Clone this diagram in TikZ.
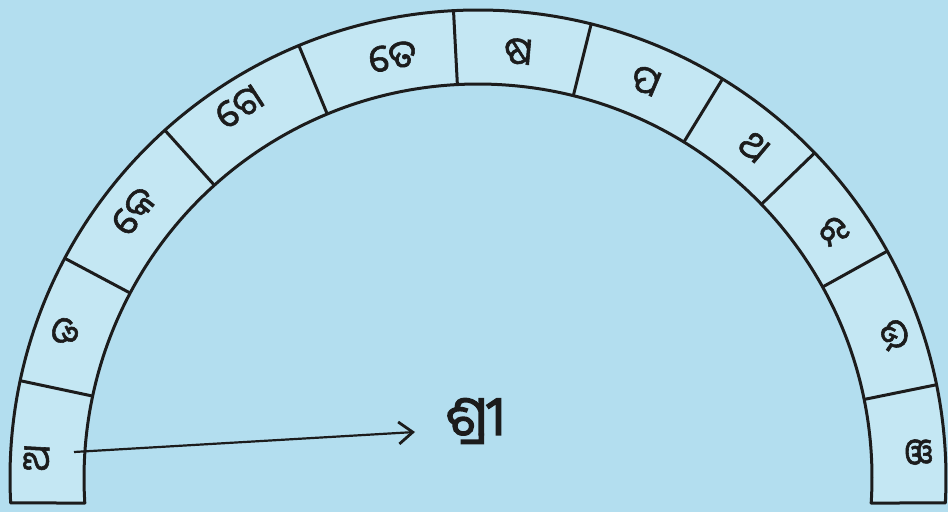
\documentclass[tikz,border=0pt]{standalone}
\usepackage{fontspec}
\usetikzlibrary{arrows.meta,calc}
\newfontfamily\odia[Script=Oriya,FakeBold=1.5]{Noto Sans Oriya UI}
\newfontfamily\odiabig[Script=Oriya,FakeBold=2.5]{Noto Sans Oriya UI}
\definecolor{bgblue}{HTML}{B3DEEF}
\definecolor{cellblue}{HTML}{C4E7F3}
\definecolor{ink}{HTML}{1C1C1C}
\tikzset{
  ring/.style={draw=ink,line width=3pt,fill=cellblue,line join=round},
  divider/.style={draw=ink,line width=3pt},
  letter/.style={font=\odia\fontsize{38}{40}\selectfont,text=ink,inner sep=0pt},
  bigletter/.style={font=\odiabig\fontsize{55}{57}\selectfont,text=ink,inner sep=0pt},
  arr/.style={draw=ink,line width=2.2pt,-{Straight Barb[length=14pt,width=22pt,line width=2.8pt]}}
}
\begin{document}
\begin{tikzpicture}[x=1pt,y=1pt]
\fill[bgblue] (0,0) rectangle (948,512);
\useasboundingbox (0,0) rectangle (948,512);
\coordinate (C) at (478,34);
\path[ring] ($(C)+(183.06:468)$) arc[start angle=183.06,end angle=-3.06,radius=468]
  -- ($(C)+(-3.64:394)$) arc[start angle=-3.64,end angle=183.64,radius=394] -- cycle;
\foreach \a in {168,152,132,112.5,93,76,58.5,44,29,11.5}{
  \draw[divider] ($(C)+(\a:394)$) -- ($(C)+(\a:468)$);
}
\node[letter,rotate=87] (c1) at (38,54) {ଅ};
\node[letter,rotate=70] (c2) at (67,180) {ଡ};
\node[letter,rotate=52] (c3) at (135,300) {କେ};
\node[letter,rotate=33] (c4) at (240,404) {ଗେ};
\node[letter,rotate=11] (c5) at (393,454) {ତେ};
\node[letter,rotate=-5] (c6) at (518,459) {ଷ};
\node[letter,rotate=-23] (c7) at (645,430) {ପ};
\node[letter,rotate=-40] (c8) at (753,364) {ଥ};
\node[letter,rotate=-55] (c9) at (832,280) {ଝ};
\node[letter,rotate=-71] (c10) at (893,177) {ଉ};
\node[letter,rotate=-87] (c11) at (917,60) {ଞ};
\node[bigletter] (shri) at (475,91) {ଶ୍ରୀ};
\coordinate (astart) at (74,60);
\coordinate (aend) at (415,80);
\draw[arr] (astart) -- (aend);
\end{tikzpicture}
\end{document}
